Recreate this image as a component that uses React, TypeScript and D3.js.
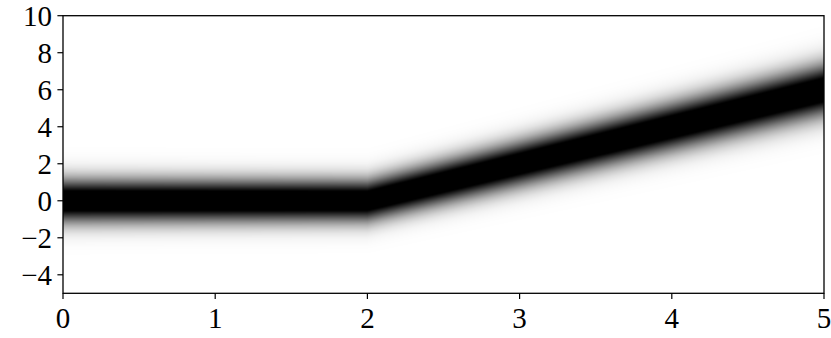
import React, { useMemo } from 'react';
import * as d3 from 'd3';

const W = 831;
const H = 338;
const xTicks = [0, 1, 2, 3, 4, 5];
const yTicks = [-4, -2, 0, 2, 4, 6, 8, 10];
const xDomain = [0, 5];
const yDomain = [-5, 10];
// piecewise-linear centre line of the density band and its spread
const xKnots = [0, 2, 5];
const meanKnots = [0, 0, 6];
const sdKnots = [0.8, 0.78, 0.95];
const saturation = 0.8;

const fmt = (v: number) => (v < 0 ? '\u2212' + Math.abs(v) : String(v));

export default function App() {
  const mg = { left: 63, right: 824, top: 15.7, bottom: 293.3 };
  const x = d3.scaleLinear().domain(xDomain).range([mg.left, mg.right]);
  const y = d3.scaleLinear().domain(yDomain).range([mg.bottom, mg.top]);

  const href = useMemo(() => {
    const w = Math.round(mg.right - mg.left);
    const h = Math.round(mg.bottom - mg.top);
    const c = document.createElement('canvas');
    c.width = w;
    c.height = h;
    const ctx = c.getContext('2d');
    if (!ctx) return '';
    const img = ctx.createImageData(w, h);
    const mean = d3.scaleLinear().domain(xKnots).range(meanKnots);
    const sd = d3.scaleLinear().domain(xKnots).range(sdKnots);
    const color = d3.scaleLinear<number>().domain([0, saturation]).range([255, 0]).clamp(true);
    for (let i = 0; i < w; i++) {
      const xv = x.invert(mg.left + ((i + 0.5) * (mg.right - mg.left)) / w);
      const mu = mean(xv);
      const s = sd(xv);
      for (let j = 0; j < h; j++) {
        const yv = y.invert(mg.top + ((j + 0.5) * (mg.bottom - mg.top)) / h);
        const z = (yv - mu) / s;
        const p = Math.exp(-0.5 * z * z);
        const g = Math.round(color(p));
        const k = (j * w + i) * 4;
        img.data[k] = g;
        img.data[k + 1] = g;
        img.data[k + 2] = g;
        img.data[k + 3] = 255;
      }
    }
    ctx.putImageData(img, 0, 0);
    return c.toDataURL();
  }, []);

  const font = '"Liberation Serif", "DejaVu Serif", serif';
  const tickLen = 5.6;
  const fs = 29;

  return (
    <svg width={W} height={H} style={{ position: 'absolute', left: 0, top: 0, background: '#fff' }}>
      <image
        x={mg.left}
        y={mg.top}
        width={mg.right - mg.left}
        height={mg.bottom - mg.top}
        href={href}
        preserveAspectRatio="none"
      />
      <rect
        x={mg.left}
        y={mg.top}
        width={mg.right - mg.left}
        height={mg.bottom - mg.top}
        fill="none"
        stroke="#000"
        strokeWidth={1.3}
      />
      {xTicks.map((t) => (
        <g key={'x' + t}>
          <line x1={x(t)} x2={x(t)} y1={mg.bottom} y2={mg.bottom + tickLen} stroke="#000" strokeWidth={1.2} />
          <text x={x(t)} y={mg.bottom + 34.5} textAnchor="middle" fontFamily={font} fontSize={fs} fill="#000">
            {fmt(t)}
          </text>
        </g>
      ))}
      {yTicks.map((t) => (
        <g key={'y' + t}>
          <line x1={mg.left - tickLen} x2={mg.left} y1={y(t)} y2={y(t)} stroke="#000" strokeWidth={1.2} />
          <text x={mg.left - 11} y={y(t) + 10} textAnchor="end" fontFamily={font} fontSize={fs} fill="#000">
            {fmt(t)}
          </text>
        </g>
      ))}
    </svg>
  );
}
